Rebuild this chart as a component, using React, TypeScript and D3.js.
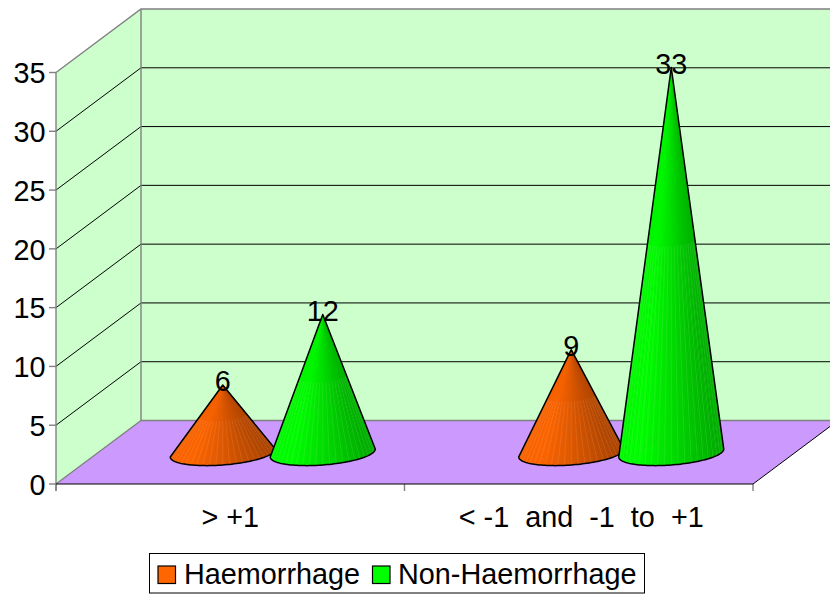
import React from "react";
import * as d3 from "d3";

const categories = ["> +1", "< -1  and  -1  to  +1"];
const seriesNames = ["Haemorrhage", "Non-Haemorrhage"];
const haemorrhage = [6, 9];
const nonHaemorrhage = [12, 33];
const yTicks = [0, 5, 10, 15, 20, 25, 30, 35];
const colors = ["#ff6600", "#00ff00"];

const W = 830, H = 594;
const x0 = 56, x1 = 753, y0 = 484, y35 = 72.5, dx = 85, dy = -63.5;
const FONT = "'Liberation Sans', Arial, sans-serif";
const FS = 28.8;

const y = d3.scaleLinear().domain([0, 35]).range([y0, y35]);
const xCat = d3.scaleBand<string>().domain(categories).range([x0, x1]);
const RX = 52.5, RY = 12, TILT = 0.075;
const FACETS = 72;

function Cone({ cx, cy, top, color }: { cx: number; cy: number; top: number; color: string }) {
  const base = d3.color(color)!;
  const shade = d3.scaleLinear<string>()
    .domain([0, 0.2, 0.5, 1])
    .range([base.formatHex(), base.formatHex(), base.darker(0.4).formatHex(), base.darker(1.3).formatHex()]);
  const pt = (a: number): [number, number] => [
    cx + RX * Math.cos(a),
    cy + RY * Math.sin(a) - TILT * RX * Math.cos(a),
  ];
  const ang = (i: number) => Math.PI - (i / FACETS) * Math.PI;
  const facets = d3.range(FACETS).map((i) => {
    const p0 = pt(ang(i));
    const p1 = pt(ang(i + 1));
    const t = (p0[0] + p1[0] - 2 * cx + 2 * RX) / (4 * RX);
    return { d: `M${cx},${top}L${p0[0]},${p0[1]}L${p1[0]},${p1[1]}Z`, fill: shade(t) };
  });
  const arc = d3.range(FACETS + 1).map((i) => pt(ang(i)));
  const outline = d3.line()([[cx, top], ...arc, [cx, top]]) + "Z";
  const seams = d3.range(3, FACETS, 3).map((i) => {
    const p = pt(ang(i));
    const f = 0.45;
    return { x1: cx + (p[0] - cx) * f, y1: top + (p[1] - top) * f, x2: p[0], y2: p[1] };
  });
  return (
    <g>
      <path d={outline} fill={shade(0.5)} />
      {facets.map((f, i) => <path key={i} d={f.d} fill={f.fill} />)}
      {seams.map((s, i) => <line key={i} {...s} stroke="#fff" strokeOpacity={0.12} strokeWidth={0.8} />)}
      <path d={outline} fill="none" stroke="#000" strokeWidth={1.5} strokeLinejoin="round" />
    </g>
  );
}

export default function App() {
  const cones = categories.flatMap((c, i) => {
    const center = xCat(c)! + xCat.bandwidth() / 2 + dx / 2;
    return [
      { cx: center - 50, v: haemorrhage[i], color: colors[0] },
      { cx: center + 50, v: nonHaemorrhage[i], color: colors[1] },
    ];
  });
  const baseY = 455.5;
  const baseEllipseY = 453;
  const unit = y(0) - y(1);
  const xRight = x1 + dx;
  return (
    <svg width={W} height={H} viewBox={`0 0 ${W} ${H}`} style={{ position: "absolute", left: 0, top: 0 }} fontFamily={FONT}>
      <rect width={W} height={H} fill="#fff" />
      <polygon points={`${x0},${y(35)} ${x0 + dx},${y(35) + dy} ${x0 + dx},${y(0) + dy} ${x0},${y(0)}`} fill="#ccffcc" />
      <rect x={x0 + dx} y={y(35) + dy} width={W - x0 - dx} height={y(0) - y(35)} fill="#ccffcc" />
      <polygon points={`${x0},${y(0)} ${x0 + dx},${y(0) + dy} ${xRight},${y(0) + dy} ${x1},${y(0)}`} fill="#cc99ff" />
      {yTicks.filter((t) => t > 0 && t < 35).map((t) => (
        <g key={t} stroke="#000" strokeWidth={1}>
          <line x1={x0} y1={y(t)} x2={x0 + dx} y2={y(t) + dy} />
          <line x1={x0 + dx} y1={y(t) + dy} x2={W} y2={y(t) + dy} />
        </g>
      ))}
      <g stroke="#808080" strokeWidth={1.4} fill="none">
        <path d={`M${x0},${y(35)}L${x0 + dx},${y(35) + dy}L${W},${y(35) + dy}`} />
        <line x1={x0 + dx} y1={y(35) + dy} x2={x0 + dx} y2={y(0) + dy} />
        <line x1={x0} y1={y(0)} x2={x0 + dx} y2={y(0) + dy} />
        <line x1={x0 + dx} y1={y(0) + dy} x2={W} y2={y(0) + dy} />
        <line x1={x0} y1={y(35)} x2={x0} y2={y(0) + 7} />
        {yTicks.map((t) => <line key={t} x1={x0 - 7} y1={y(t)} x2={x0} y2={y(t)} />)}
        {[0, 1, 2].map((i) => <line key={i} x1={x0 + (i * (x1 - x0)) / 2} y1={y(0)} x2={x0 + (i * (x1 - x0)) / 2} y2={y(0) + 7} />)}
      </g>
      <line x1={x0} y1={y(0)} x2={x1} y2={y(0)} stroke="#000" strokeWidth={1} />
      <line x1={x1} y1={y(0)} x2={xRight} y2={y(0) + dy} stroke="#000" strokeWidth={1} />
      {cones.map((c, i) => <Cone key={i} cx={c.cx} cy={baseEllipseY} top={baseY - c.v * unit} color={c.color} />)}
      {cones.map((c, i) => (
        <text key={i} x={c.cx} y={baseY - c.v * unit + 6.5} textAnchor="middle" fontSize={FS} fill="#000">{c.v}</text>
      ))}
      {yTicks.map((t) => (
        <text key={t} x={45.5} y={y(t) + 10.8} textAnchor="end" fontSize={FS} fill="#000">{t}</text>
      ))}
      {categories.map((c, i) => (
        <text key={c} x={xCat(c)! + xCat.bandwidth() / 2 + i * 2.5} y={527} textAnchor="middle" fontSize={FS} fill="#000" style={{ whiteSpace: "pre" }}>{c}</text>
      ))}
      <rect x={149.5} y={553.5} width={495} height={39.5} fill="#fff" stroke="#000" strokeWidth={1} />
      <rect x={158} y={566} width={17.5} height={17.5} fill={colors[0]} stroke="#000" strokeWidth={1.2} />
      <text x={184} y={584} fontSize={FS} fill="#000">{seriesNames[0]}</text>
      <rect x={372.5} y={566} width={17.5} height={17.5} fill={colors[1]} stroke="#000" strokeWidth={1.2} />
      <text x={398} y={584} fontSize={FS} fill="#000">{seriesNames[1]}</text>
    </svg>
  );
}
